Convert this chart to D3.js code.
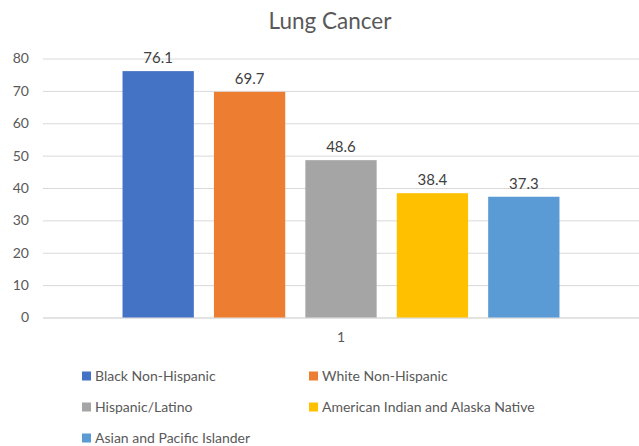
<!DOCTYPE html>
<html>
<head>
<meta charset="utf-8">
<script src="https://cdn.jsdelivr.net/npm/d3@7"></script>
<style>
  html, body { margin: 0; padding: 0; background: #fff; }
  svg { display: block; font-family: Lato, "Liberation Sans", sans-serif; }
</style>
</head>
<body>
<svg id="chart" width="639" height="446"></svg>
<script>
// Lung cancer incidence by race / ethnicity
const categories = ["1"];
const seriesNames = [
  "Black Non-Hispanic",
  "White Non-Hispanic",
  "Hispanic/Latino",
  "American Indian and Alaska Native",
  "Asian and Pacific Islander"
];
const seriesValues = [76.1, 69.7, 48.6, 38.4, 37.3];
const seriesColors = ["#4472C4", "#ED7D31", "#A5A5A5", "#FFC000", "#5B9BD5"];
const yTicks = [0, 10, 20, 30, 40, 50, 60, 70, 80];

const svg = d3.select("#chart");
const plot = { left: 43, right: 639, top: 58.5, bottom: 317.5 };

const y = d3.scaleLinear().domain([0, 80]).range([plot.bottom, plot.top]);
const x0 = d3.scaleBand().domain(categories).range([plot.left, plot.right])
  .paddingInner(0).paddingOuter(0.182);
const x1 = d3.scaleBand().domain(seriesNames).range([0, x0.bandwidth()])
  .paddingInner(0.22).paddingOuter(0);

// Title
svg.append("text")
  .attr("x", 330).attr("y", 29)
  .attr("text-anchor", "middle")
  .attr("font-size", 22.5)
  .attr("fill", "#595959")
  .text("Lung Cancer");

// Gridlines and y tick labels
const yAxis = d3.axisLeft(y).tickValues(yTicks).tickSize(-(plot.right - plot.left)).tickPadding(14);
const gy = svg.append("g").attr("transform", `translate(${plot.left},0)`).call(yAxis);
gy.select(".domain").remove();
gy.selectAll(".tick line").attr("stroke", "#d9d9d9").attr("stroke-width", 1);
gy.selectAll(".tick text").attr("fill", "#595959").attr("font-size", 14)
  .attr("font-family", "Lato, 'Liberation Sans', sans-serif");

// Category axis label
const xAxis = d3.axisBottom(x0).tickSize(0).tickPadding(15);
const gx = svg.append("g").attr("transform", `translate(0,${plot.bottom})`).call(xAxis);
gx.select(".domain").attr("stroke", "#d9d9d9");
gx.selectAll(".tick text").attr("fill", "#595959").attr("font-size", 14)
  .attr("font-family", "Lato, 'Liberation Sans', sans-serif");

// Bars
const group = svg.append("g").attr("transform", `translate(${x0(categories[0])},0)`);
const bars = seriesNames.map((name, i) => ({ name, value: seriesValues[i], color: seriesColors[i] }));

group.selectAll("rect").data(bars).join("rect")
  .attr("x", d => x1(d.name))
  .attr("y", d => y(d.value))
  .attr("width", x1.bandwidth())
  .attr("height", d => y(0) - y(d.value))
  .attr("fill", d => d.color);

// Value labels
group.selectAll("text.value").data(bars).join("text")
  .attr("class", "value")
  .attr("x", d => x1(d.name) + x1.bandwidth() / 2)
  .attr("y", d => y(d.value) - 8)
  .attr("text-anchor", "middle")
  .attr("font-size", 15)
  .attr("fill", "#404040")
  .text(d => d.value.toFixed(1));

// Legend
const legendCols = [82, 309];
const legendRows = [376, 407, 438];
const legend = svg.append("g").selectAll("g").data(bars).join("g")
  .attr("transform", (d, i) => `translate(${legendCols[i % 2]},${legendRows[Math.floor(i / 2)]})`);
legend.append("rect")
  .attr("x", 0).attr("y", -4.5).attr("width", 9).attr("height", 9)
  .attr("fill", d => d.color);
legend.append("text")
  .attr("x", 13).attr("y", 5)
  .attr("font-size", 14)
  .attr("fill", "#595959")
  .text(d => d.name);
</script>
</body>
</html>
